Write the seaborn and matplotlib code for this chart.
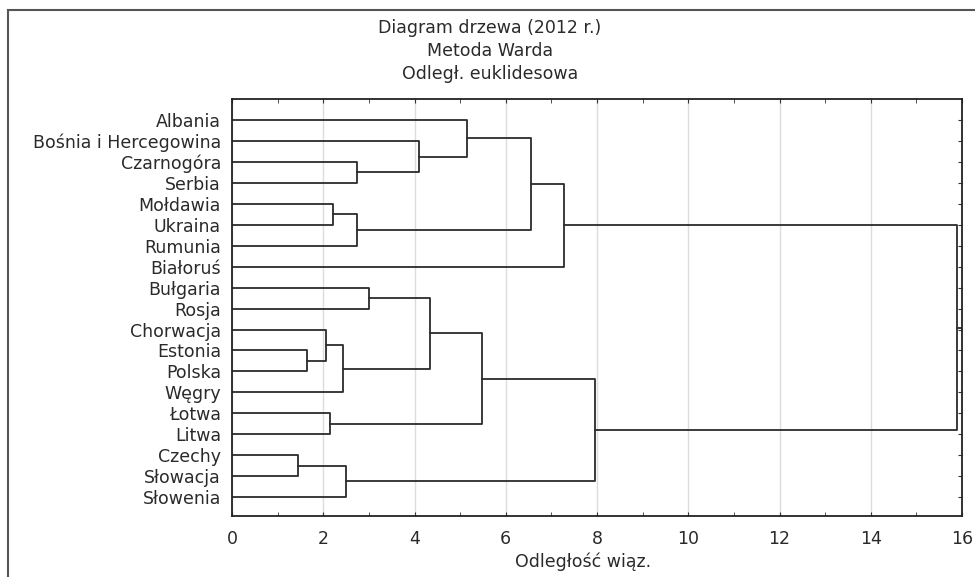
import numpy as np
import pandas as pd
import matplotlib
matplotlib.use("Agg")
import matplotlib.pyplot as plt
import matplotlib.patches as patches
import seaborn as sns

# Kraje w kolejności liści (od góry do dołu)
countries = ["Albania", "Bośnia i Hercegowina", "Czarnogóra", "Serbia", "Mołdawia",
             "Ukraina", "Rumunia", "Białoruś", "Bułgaria", "Rosja", "Chorwacja",
             "Estonia", "Polska", "Węgry", "Łotwa", "Litwa", "Czechy", "Słowacja",
             "Słowenia"]

# Kolejne połączenia (metoda Warda): lewy, prawy, odległość wiązania
merge_left = ["Estonia", "Czechy", "Chorwacja", "Łotwa", "Mołdawia", "c2", "c1",
              "Czarnogóra", "c4", "Bułgaria", "Bośnia i Hercegowina", "c9",
              "Albania", "c11", "c12", "c14", "c13", "c15"]
merge_right = ["Polska", "Słowacja", "c0", "Litwa", "Ukraina", "Węgry", "Słowenia",
               "Serbia", "Rumunia", "Rosja", "c7", "c5", "c10", "c3", "c8",
               "Białoruś", "c6", "c16"]
merge_height = [1.64, 1.45, 2.05, 2.14, 2.22, 2.43, 2.50, 2.74, 2.74, 3.0, 4.09,
                4.34, 5.16, 5.49, 6.55, 7.28, 7.95, 15.9]

x_ticks = [0, 2, 4, 6, 8, 10, 12, 14, 16]

# Budowa ścieżek gałęzi
pos = {c: (0.0, float(i)) for i, c in enumerate(countries)}
rows = []
for k, (a, b, h) in enumerate(zip(merge_left, merge_right, merge_height)):
    ha, ya = pos[a]
    hb, yb = pos[b]
    for order, (xx, yy) in enumerate([(ha, ya), (h, ya), (h, yb), (hb, yb)]):
        rows.append({"link": k, "order": order, "x": xx, "y": yy})
    pos[f"c{k}"] = (h, (ya + yb) / 2)
# Krótki odcinek od korzenia do krawędzi osi
root_h, root_y = pos[f"c{len(merge_height) - 1}"]
rows.append({"link": 99, "order": 0, "x": root_h, "y": root_y})
rows.append({"link": 99, "order": 1, "x": x_ticks[-1], "y": root_y})
df_links = pd.DataFrame(rows)

sns.set_style("white")
plt.rcParams["font.family"] = ["DejaVu Sans"]
fs = 12.5
txt_color = "#2a2a2a"

fig = plt.figure(figsize=(9.75, 5.77), dpi=100)
ax = fig.add_axes([232 / 975, 1 - 516 / 577, (962 - 232) / 975, (516 - 99) / 577])

sns.lineplot(data=df_links, x="x", y="y", units="link", estimator=None, sort=False,
             color="#2b2b2b", linewidth=1.3, ax=ax, legend=False)

ax.set_xlim(0, 16)
ax.set_ylim(18.9, -1.0)
ax.set_xticks(x_ticks)
ax.set_xticks(np.arange(0, 17, 1), minor=True)
ax.set_xticklabels([str(t) for t in x_ticks], fontsize=fs, color=txt_color)
ax.set_yticks(range(len(countries)))
ax.set_yticklabels(countries, fontsize=fs, color=txt_color)
ax.tick_params(axis="x", which="both", direction="in", length=3, top=True,
               bottom=True, pad=10, color="#333333")
ax.tick_params(axis="y", direction="in", length=3, left=False, right=True,
               pad=8, color="#333333")
ax.grid(axis="x", which="major", color="#dcdcdc", linewidth=1.0)
ax.set_axisbelow(True)
for s in ax.spines.values():
    s.set_visible(True)
    s.set_color("#222222")
    s.set_linewidth(1.3)
ax.set_xlabel("")
ax.set_ylabel("")

# Tytuł i opis osi
fig.text(490 / 975, 1 - 28 / 577, "Diagram drzewa (2012 r.)", ha="center", va="center",
         fontsize=fs, color=txt_color)
fig.text(490 / 975, 1 - 51 / 577, "Metoda Warda", ha="center", va="center",
         fontsize=fs, color=txt_color)
fig.text(490 / 975, 1 - 74 / 577, "Odległ. euklidesowa", ha="center", va="center",
         fontsize=fs, color=txt_color)
fig.text(583 / 975, 1 - 562 / 577, "Odległość wiąz.", ha="center", va="center",
         fontsize=fs, color=txt_color)

# Ramka wokół wykresu
frame = patches.Rectangle((8 / 975, -0.1), 1.2, 1.1 - 10 / 577, transform=fig.transFigure,
                          fill=False, edgecolor="#555555", linewidth=1.5)
fig.patches.append(frame)

fig.savefig("out.png", dpi=100)
